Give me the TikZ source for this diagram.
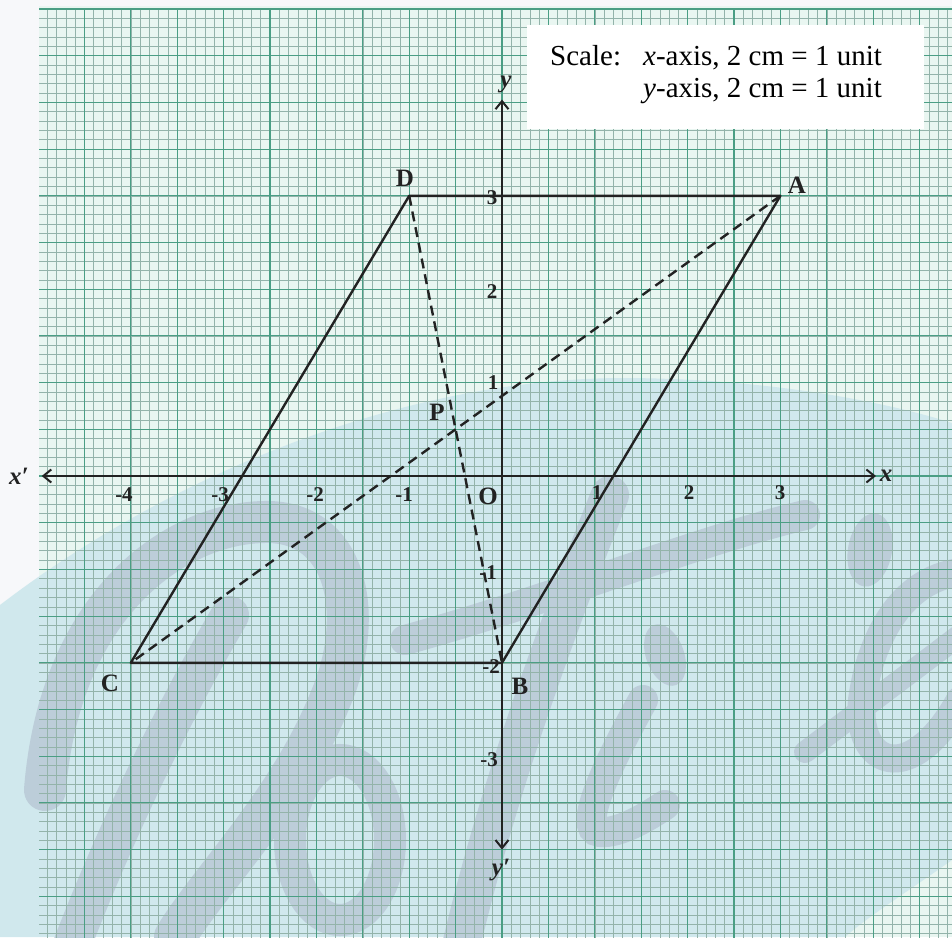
\documentclass[tikz,border=0pt]{standalone}
\usepackage{fontspec}
\setmainfont{Liberation Serif}
\usetikzlibrary{arrows.meta}
\definecolor{margin}{HTML}{F7F8FA}
\definecolor{paper}{HTML}{E9F6F1}
\definecolor{band}{HTML}{D0E8ED}
\definecolor{lettercol}{HTML}{BCCDD9}
\definecolor{finegrid}{HTML}{93B3AA}
\definecolor{majorgrid}{HTML}{4A9E84}
\definecolor{ink}{HTML}{222222}
\tikzset{
  fineline/.style={draw=finegrid, line width=0.55pt},
  majorline/.style={draw=majorgrid, line width=1.1pt},
  wm/.style={draw=lettercol, line cap=round, line width=38pt},
  wmfill/.style={fill=lettercol},
  figline/.style={draw=ink, line width=2.4pt, line join=round},
  dashline/.style={draw=ink, line width=2.4pt, dash pattern=on 10pt off 6pt},
  axisline/.style={draw=ink, line width=2pt},
  ticklab/.style={font=\fontsize{21}{21}\selectfont\bfseries, inner sep=0pt, text=ink},
  ptlab/.style={font=\fontsize{25}{25}\selectfont\bfseries, inner sep=0pt, text=ink},
  axlab/.style={font=\fontsize{25}{25}\selectfont\bfseries\itshape, inner sep=0pt, text=ink},
  scaletxt/.style={font=\fontsize{29}{29}\selectfont, inner sep=0pt, anchor=base west, text=black}
}
\begin{document}
\begin{tikzpicture}[x=1pt,y=-1pt]
\useasboundingbox (0,0) rectangle (952,937);
\fill[margin] (0,0) rectangle (952,937);
\fill[paper] (39,6) rectangle (952,937);
% watermark band
\fill[band] (0,605) .. controls (150,490) and (380,380) .. (620,378)
  .. controls (760,378) and (880,400) .. (952,423) -- (952,860)
  .. controls (910,890) and (870,915) .. (845,937) -- (0,937) -- cycle;
% watermark letters
\begin{scope}
\clip (0,0) rectangle (952,937);
\draw[wm, line width=42pt] (45,790) .. controls (60,600) and (180,520) .. (270,522)
  .. controls (350,525) and (365,620) .. (330,700) .. controls (290,800) and (210,880) .. (175,937);
\draw[wm] (70,950) .. controls (120,820) and (180,700) .. (230,615);
\draw[wm, line width=32pt] (340,840) ellipse[x radius=50, y radius=80];
\draw[wm, line width=30pt] (405,640) .. controls (550,600) and (700,540) .. (805,515);
\draw[wm, line width=38pt] (610,495) .. controls (560,620) and (500,780) .. (460,950);
\fill[wmfill, rotate around={20:(665,655)}] (665,655) ellipse[x radius=19, y radius=32];
\draw[wm, line width=30pt] (643,700) .. controls (610,760) and (575,830) .. (600,832) .. controls (620,834) and (650,815) .. (665,805);
\fill[wmfill, rotate around={-10:(870,550)}] (870,550) ellipse[x radius=22, y radius=37];
\draw[wm, line width=28pt] (960,572) .. controls (900,580) and (870,640) .. (862,700)
  .. controls (855,765) and (910,790) .. (960,700);
\draw[wm, line width=22pt] (805,752) -- (960,635);
\end{scope}
% graph paper grid
\begin{scope}
\clip (39,6) rectangle (952,937);
\begin{scope}[shift={(502,476)}, x=92.8pt, y=93.4pt]
\draw[fineline] (-5,-5.2) grid[step=0.1] (5.2,5);
\draw[majorline] (-5,-5.2) grid[step=0.5] (5.2,5);
\end{scope}
\end{scope}
% scale box
\fill[white] (527,25) rectangle (924,129);
\node[scaletxt] (scl) at (550,65) {Scale:};
\node[scaletxt] (sx) at (643,65) {\textit{x}-axis, 2 cm = 1 unit};
\node[scaletxt] (sy) at (643,97) {\textit{y}-axis, 2 cm = 1 unit};
% axes and figure
\begin{scope}[shift={(502,476)}, x=92.8pt, y=93.4pt]
\coordinate (xl) at (-4.96,0);
\coordinate (xr) at (4.03,0);
\coordinate (yt) at (0,4.03);
\coordinate (yb) at (0,-4.0);
\draw[axisline, {Straight Barb[length=8pt,width=13pt,line width=2pt]}-{Straight Barb[length=8pt,width=13pt,line width=2pt]}] (xl) -- (xr);
\draw[axisline, {Straight Barb[length=8pt,width=13pt,line width=2pt]}-{Straight Barb[length=8pt,width=13pt,line width=2pt]}] (yb) -- (yt);
\coordinate (A) at (3,3);
\coordinate (D) at (-1,3);
\coordinate (C) at (-4,-2);
\coordinate (B) at (0,-2);
\draw[dashline] (A) -- (C);
\draw[dashline] (D) -- (B);
\draw[figline] (A) -- (D) -- (C) -- (B) -- cycle;
\end{scope}
% point labels
\node[ptlab] (lD) at (405,178) {D};
\node[ptlab] (lA) at (797,185) {A};
\node[ptlab] (lC) at (110,683) {C};
\node[ptlab] (lB) at (520,686) {B};
\node[ptlab] (lP) at (437,412) {P};
\node[ptlab] (lO) at (488,496) {O};
% axis labels
\node[axlab] (lxp) at (19,476) {x′};
\node[axlab] (lx) at (886,476) {x};
\node[axlab] (ly) at (506,84) {y};
\node[axlab] (lyp) at (501,870) {y′};
% tick labels x
\node[ticklab] (tm4) at (124,495) {-4};
\node[ticklab] (tm3) at (220,495) {-3};
\node[ticklab] (tm2) at (315,495) {-2};
\node[ticklab] (tm1) at (404,495) {-1};
\node[ticklab] (t1) at (597,493) {1};
\node[ticklab] (t2) at (689,493) {2};
\node[ticklab] (t3) at (780,493) {3};
% tick labels y
\node[ticklab] (u3) at (492,198) {3};
\node[ticklab] (u2) at (492,292) {2};
\node[ticklab] (u1) at (493,383) {1};
\node[ticklab] (um1) at (488,573) {-1};
\node[ticklab] (um2) at (491,667) {-2};
\node[ticklab] (um3) at (489,760) {-3};
\end{tikzpicture}
\end{document}
